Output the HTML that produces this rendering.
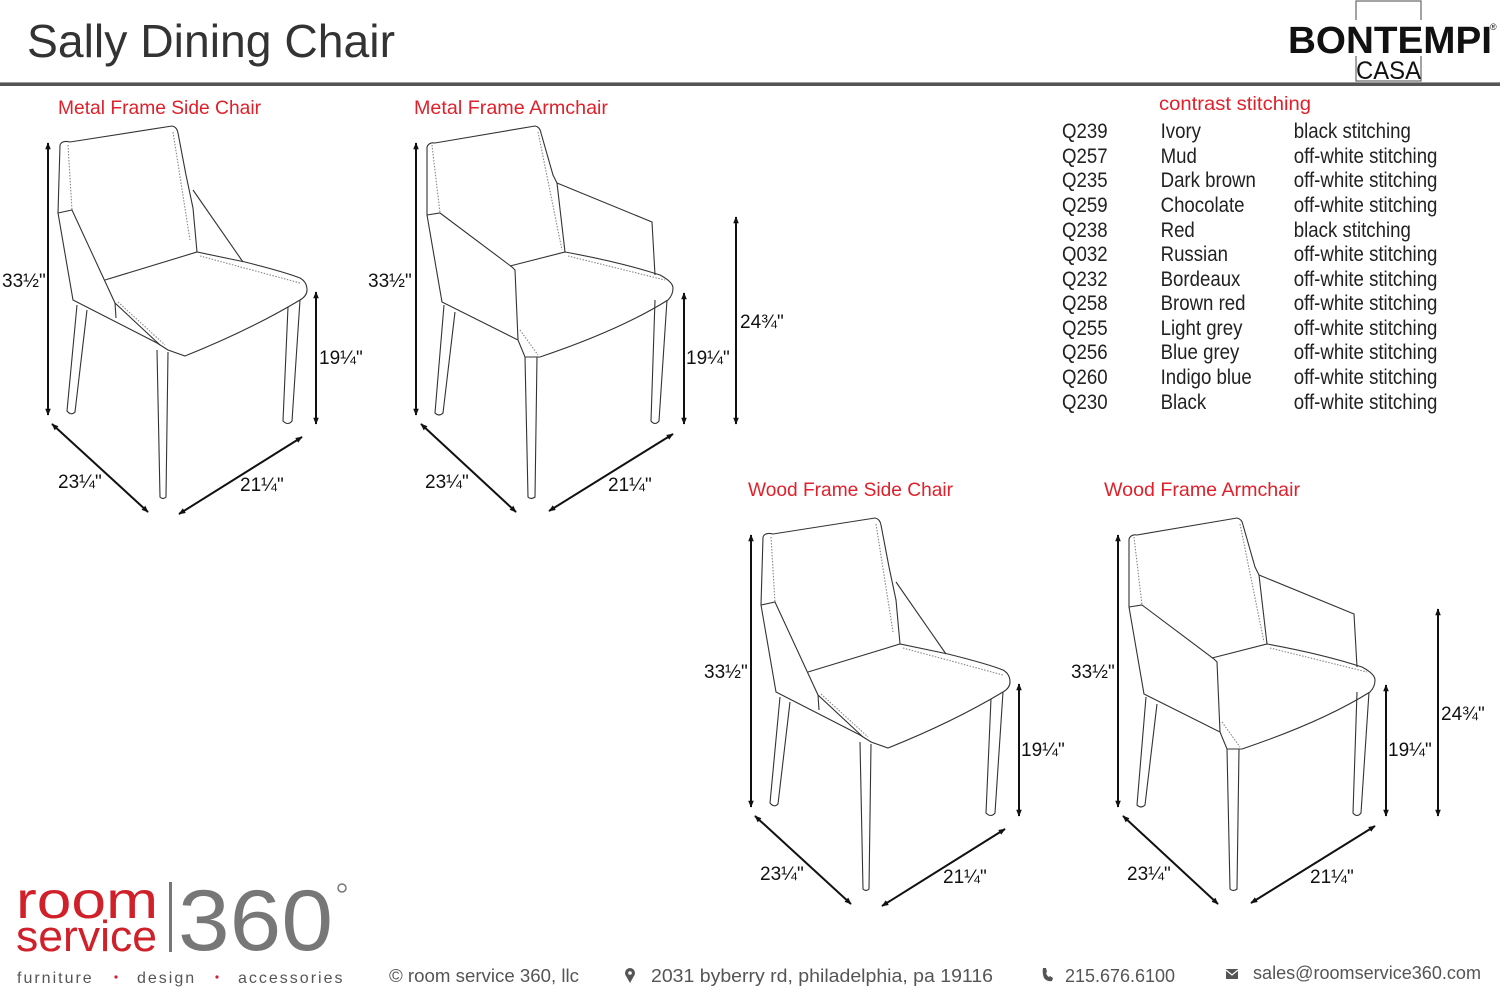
<!DOCTYPE html>
<html><head><meta charset="utf-8"><style>
html,body{margin:0;padding:0;background:#fff;}
svg{display:block;}
text{font-family:"Liberation Sans",sans-serif;}
</style></head><body>
<svg width="1500" height="1000" viewBox="0 0 1500 1000" xmlns="http://www.w3.org/2000/svg">
<defs>
<marker id="ah" viewBox="0 0 10 10" refX="9" refY="5" markerWidth="7" markerHeight="7" orient="auto-start-reverse" markerUnits="userSpaceOnUse"><path d="M0,1 L10,5 L0,9 Z" fill="#111"/></marker>
<g id="side" fill="none" stroke="#333" stroke-width="1.1">
  <path d="M60,145 Q62,140 70,142 L172,126 Q177,127 178,133 L186,175 L193,208 L197,252"/>
  <path d="M60,145 L58,213 L73,300 L157,343 L168,350 L185,356 Q250,330 300,300 Q307,296 307,290"/>
  <path d="M68,145 L72,210" stroke-dasharray="1.5,1.5" stroke="#888"/>
  <path d="M173,132 L190,240" stroke-dasharray="1.5,1.5" stroke="#888"/>
  <path d="M58,213 L72,210 L115,303 L160,345"/>
  <path d="M193,190 L243,262"/>
  <path d="M105,280 L197,252 L245,262 Q285,272 300,278 Q307,282 307,290"/>
  <path d="M115,303 L116,318"/>
  <path d="M200,256 L300,283" stroke-dasharray="1.5,1.5" stroke="#888"/>
  <path d="M118,302 L165,345" stroke-dasharray="1.5,1.5" stroke="#888"/>
  <path d="M157,350 L160,497 Q163,500 166,497 L168,352"/>
  <path d="M77,305 L67,411 Q71,416 75,412 L87,310"/>
  <path d="M288,307 L283,421 Q288,426 292,421 L300,300"/>
</g>
<g id="arm" fill="none" stroke="#333" stroke-width="1.1">
  <path d="M427,147 Q429,142 435,143 L535,126 Q540,127 541,133 L553,175 L557,183 L565,252"/>
  <path d="M557,183 L652,222 L655,275"/>
  <path d="M427,147 L427,215 L442,302 L518,340 L525,357 L540,357 Q620,330 668,300 Q673,295 673,288"/>
  <path d="M432,145 L440,213" stroke-dasharray="1.5,1.5" stroke="#888"/>
  <path d="M538,132 L562,250" stroke-dasharray="1.5,1.5" stroke="#888"/>
  <path d="M427,215 L440,213 L512,267 L515,270 L518,340"/>
  <path d="M510,266 L565,252 Q620,262 660,275 Q673,282 673,288"/>
  <path d="M568,256 L665,280" stroke-dasharray="1.5,1.5" stroke="#888"/>
  <path d="M520,330 L538,355" stroke-dasharray="1.5,1.5" stroke="#888"/>
  <path d="M525,357 L528,497 Q531,500 535,497 L537,357"/>
  <path d="M444,305 L435,413 Q439,417 443,413 L455,312"/>
  <path d="M655,300 L651,421 Q655,426 659,421 L667,300"/>
</g>
<g id="sideDim" stroke="#111" stroke-width="2" marker-start="url(#ah)" marker-end="url(#ah)">
  <line x1="48" y1="143" x2="48" y2="415"/>
  <line x1="316" y1="292" x2="316" y2="424"/>
  <line x1="52" y1="424" x2="148" y2="512"/>
  <line x1="179" y1="514" x2="302" y2="437"/>
</g>
<g id="armDim" stroke="#111" stroke-width="2" marker-start="url(#ah)" marker-end="url(#ah)">
  <line x1="416" y1="143" x2="416" y2="415"/>
  <line x1="684" y1="293" x2="684" y2="424"/>
  <line x1="736" y1="217" x2="736" y2="424"/>
  <line x1="421" y1="424" x2="516" y2="512"/>
  <line x1="549" y1="511" x2="673" y2="434"/>
</g>
</defs>

<text x="27" y="57" font-size="46" fill="#333" textLength="368" lengthAdjust="spacingAndGlyphs">Sally Dining Chair</text>
<rect x="0" y="82" width="1500" height="4" fill="#555"/>
<rect x="0" y="82" width="1500" height="1" fill="#999"/>
<!-- Bontempi logo -->
<rect x="1356" y="1" width="65" height="80" fill="none" stroke="#666" stroke-width="1.2"/>
<rect x="1288" y="20" width="208" height="36" fill="#fff"/>
<text x="1288" y="53" font-size="38" font-weight="bold" fill="#111" textLength="204" lengthAdjust="spacingAndGlyphs">BONTEMPI</text>
<text x="1490" y="30" font-size="9" fill="#111">®</text>
<text x="1356" y="79" font-size="25" fill="#111" textLength="65" lengthAdjust="spacingAndGlyphs">CASA</text>

<g font-size="19.5" fill="#e0202a">
<text x="58" y="114" textLength="203" lengthAdjust="spacingAndGlyphs">Metal Frame Side Chair</text>
<text x="414" y="114" textLength="194" lengthAdjust="spacingAndGlyphs">Metal Frame Armchair</text>
<text x="748" y="496" textLength="205" lengthAdjust="spacingAndGlyphs">Wood Frame Side Chair</text>
<text x="1104" y="496" textLength="196" lengthAdjust="spacingAndGlyphs">Wood Frame Armchair</text>
<text x="1159" y="110" textLength="152" lengthAdjust="spacingAndGlyphs">contrast stitching</text>
</g>

<use href="#side"/><use href="#sideDim"/>
<use href="#arm"/><use href="#armDim"/>
<use href="#side" transform="translate(703,392)"/><use href="#sideDim" transform="translate(703,392)"/>
<use href="#arm" transform="translate(702,392)"/><use href="#armDim" transform="translate(702,392)"/>

<g font-size="19" fill="#111">
<text x="2" y="287">33½"</text><text x="319" y="364">19¼"</text><text x="58" y="488">23¼"</text><text x="240" y="491">21¼"</text>
<text x="368" y="287">33½"</text><text x="686" y="364">19¼"</text><text x="740" y="328">24¾"</text><text x="425" y="488">23¼"</text><text x="608" y="491">21¼"</text>
<text x="704" y="678">33½"</text><text x="1021" y="756">19¼"</text><text x="760" y="880">23¼"</text><text x="943" y="883">21¼"</text>
<text x="1071" y="678">33½"</text><text x="1388" y="756">19¼"</text><text x="1441" y="720">24¾"</text><text x="1127" y="880">23¼"</text><text x="1310" y="883">21¼"</text>
</g>

<g font-size="21" fill="#222" transform="scale(0.888,1)">
<text x="1196" y="138">Q239</text><text x="1307" y="138">Ivory</text><text x="1457" y="138">black stitching</text>
<text x="1196" y="163">Q257</text><text x="1307" y="163">Mud</text><text x="1457" y="163">off-white stitching</text>
<text x="1196" y="187">Q235</text><text x="1307" y="187">Dark brown</text><text x="1457" y="187">off-white stitching</text>
<text x="1196" y="212">Q259</text><text x="1307" y="212">Chocolate</text><text x="1457" y="212">off-white stitching</text>
<text x="1196" y="237">Q238</text><text x="1307" y="237">Red</text><text x="1457" y="237">black stitching</text>
<text x="1196" y="261">Q032</text><text x="1307" y="261">Russian</text><text x="1457" y="261">off-white stitching</text>
<text x="1196" y="286">Q232</text><text x="1307" y="286">Bordeaux</text><text x="1457" y="286">off-white stitching</text>
<text x="1196" y="310">Q258</text><text x="1307" y="310">Brown red</text><text x="1457" y="310">off-white stitching</text>
<text x="1196" y="335">Q255</text><text x="1307" y="335">Light grey</text><text x="1457" y="335">off-white stitching</text>
<text x="1196" y="359">Q256</text><text x="1307" y="359">Blue grey</text><text x="1457" y="359">off-white stitching</text>
<text x="1196" y="384">Q260</text><text x="1307" y="384">Indigo blue</text><text x="1457" y="384">off-white stitching</text>
<text x="1196" y="409">Q230</text><text x="1307" y="409">Black</text><text x="1457" y="409">off-white stitching</text>
</g>

<!-- room service 360 logo -->
<text x="16" y="918" font-size="52" fill="#d0202a" textLength="142" lengthAdjust="spacingAndGlyphs">room</text>
<text x="16" y="951" font-size="44" fill="#d0202a" textLength="141" lengthAdjust="spacingAndGlyphs">service</text>
<rect x="169" y="882" width="3" height="70" fill="#777"/>
<text x="178" y="950" font-size="86" fill="#777" textLength="155" lengthAdjust="spacingAndGlyphs">360</text>
<circle cx="342" cy="888" r="4" fill="none" stroke="#777" stroke-width="1.5"/>
<g font-size="16" fill="#555" style="letter-spacing:2px">
<text x="17" y="983">furniture</text><text x="137" y="983">design</text><text x="238" y="983">accessories</text>
</g>
<circle cx="116" cy="977" r="1.6" fill="#d0202a"/><circle cx="217" cy="977" r="1.6" fill="#d0202a"/>
<g font-size="18" fill="#555">
<text x="389" y="982" textLength="190" lengthAdjust="spacingAndGlyphs">© room service 360, llc</text>
<circle cx="630" cy="973" r="5" fill="#555"/><path d="M625.5,975 L630,983 L634.5,975 Z" fill="#555"/><circle cx="630" cy="973" r="1.8" fill="#fff"/>
<text x="651" y="982" textLength="342" lengthAdjust="spacingAndGlyphs">2031 byberry rd, philadelphia, pa 19116</text>
<path d="M1044,978 q3,4 8,3 l1,-3 l-3,-2 l-1,1 q-2,-1 -3,-4 l1,-1 l-1,-4 l-3,0 q-1,5 1,10 Z" fill="#555"/>
<text x="1065" y="982" textLength="110" lengthAdjust="spacingAndGlyphs">215.676.6100</text>
<rect x="1226" y="969" width="12" height="10" fill="#555"/><path d="M1226,970 L1232,975 L1238,970" stroke="#fff" fill="none" stroke-width="1.2"/>
<text x="1253" y="979" textLength="228" lengthAdjust="spacingAndGlyphs">sales@roomservice360.com</text>
</g>
</svg>
</body></html>
